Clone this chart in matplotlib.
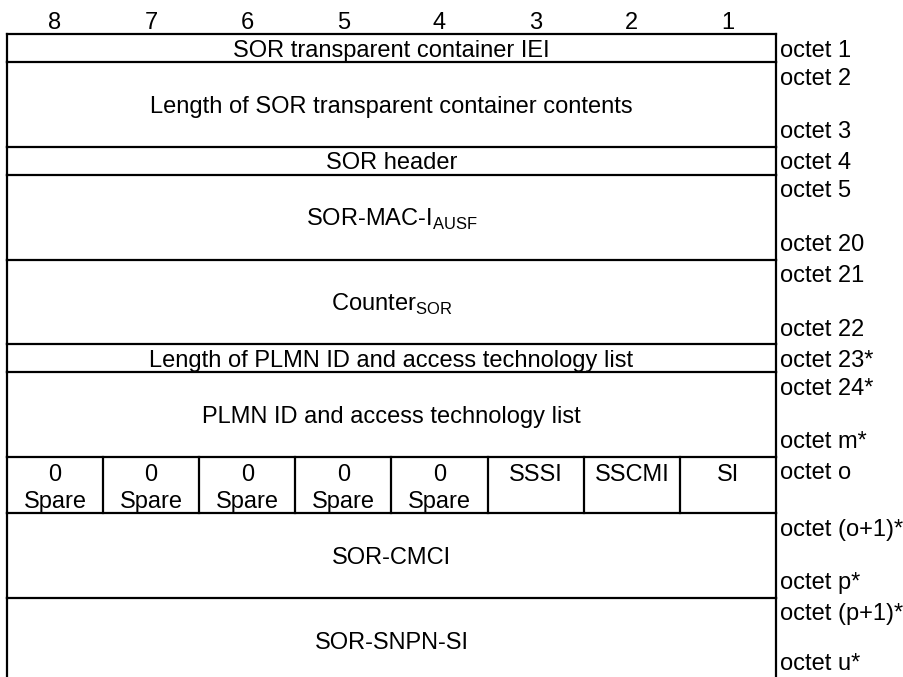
import matplotlib
matplotlib.use("Agg")
import matplotlib.pyplot as plt

plt.rcParams['font.family'] = ['Liberation Sans', 'DejaVu Sans']
plt.rcParams['mathtext.fontset'] = 'custom'
plt.rcParams['mathtext.rm'] = 'Liberation Sans'

# --- Data ---
BIT_LABELS = ["8", "7", "6", "5", "4", "3", "2", "1"]

# field text, height in octet units, octet labels (first, last)
FIELDS      = ["SOR transparent container IEI",
               "Length of SOR transparent container contents",
               "SOR header",
               "SOR-MAC-I$_{\\mathregular{AUSF}}$",
               "Counter$_{\\mathregular{SOR}}$",
               "Length of PLMN ID and access technology list",
               "PLMN ID and access technology list",
               None,
               "SOR-CMCI",
               "SOR-SNPN-SI"]
ROW_UNITS   = [1, 3, 1, 3, 3, 1, 3, 2, 3, 3]
OCTET_TOP   = ["octet 1", "octet 2", "octet 4", "octet 5", "octet 21",
               "octet 23*", "octet 24*", "octet o", "octet (o+1)*", "octet (p+1)*"]
OCTET_BOT   = [None, "octet 3", None, "octet 20", "octet 22",
               None, "octet m*", None, "octet p*", "octet u*"]

# bit fields of octet o, from bit 8 to bit 1
FLAG_TOP    = ["0", "0", "0", "0", "0", "SSSI", "SSCMI", "SI"]
FLAG_BOT    = ["Spare", "Spare", "Spare", "Spare", "Spare", "", "", ""]

# --- Layout ---
X0, X1 = 7, 776
Y0 = 34
UNIT = 28.2
COLW = (X1 - X0) / 8
FS = 17
CAP = FS * 100 / 72 * 0.716   # cap height in px
LW = 1.6
H = 677

fig = plt.figure(figsize=(9.04, 6.77), dpi=100)
ax = fig.add_axes([0, 0, 1, 1])
ax.set_xlim(0, 904)
ax.set_ylim(H, 0)
ax.axis('off')


def put(x, ymid, s, ha='center'):
    # place text so that its cap height is centred on ymid
    ax.text(x, ymid + CAP / 2, s, ha=ha, va='baseline', fontsize=FS)


for i, b in enumerate(BIT_LABELS):
    put(X0 + COLW * (i + 0.5), 21, b)

y = Y0
ax.plot([X0, X1], [y, y], color='black', lw=LW, solid_capstyle='projecting')
for field, units, top, bot in zip(FIELDS, ROW_UNITS, OCTET_TOP, OCTET_BOT):
    h = units * UNIT
    y2 = y + h
    ax.plot([X0, X1], [y2, y2], color='black', lw=LW, solid_capstyle='projecting')
    ax.plot([X0, X0], [y, y2], color='black', lw=LW)
    ax.plot([X1, X1], [y, y2], color='black', lw=LW)
    if field is not None:
        put((X0 + X1) / 2, y + h / 2, field)
    else:
        for i, (t, b) in enumerate(zip(FLAG_TOP, FLAG_BOT)):
            cx = X0 + COLW * (i + 0.5)
            put(cx, y + 16, t)
            if b:
                put(cx, y + 43, b)
            if i > 0:
                xl = X0 + COLW * i
                ax.plot([xl, xl], [y, y2], color='black', lw=LW)
    if units == 1:
        put(X1 + 4, y + h / 2, top, ha='left')
    else:
        put(X1 + 4, y + 14, top, ha='left')
        if bot:
            put(X1 + 4, min(y2 - 17, H - 15), bot, ha='left')
    y = y2

fig.savefig('out.png', dpi=100)
